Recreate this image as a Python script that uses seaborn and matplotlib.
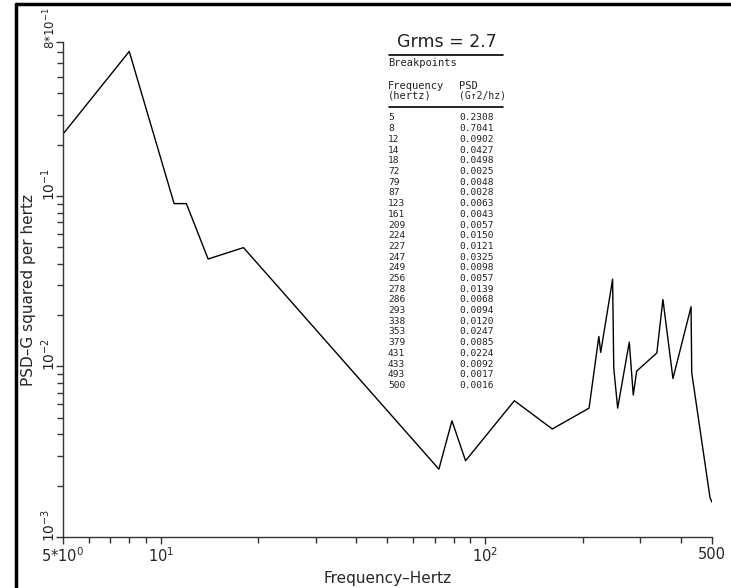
import numpy as np
import pandas as pd
import seaborn as sns
import matplotlib.pyplot as plt
from matplotlib.lines import Line2D
from matplotlib.ticker import FixedLocator, NullFormatter
from matplotlib.transforms import ScaledTranslation

sns.set_style('ticks')
plt.rcParams['font.family'] = ['DejaVu Sans']

# Breakpoint table (frequency in Hz, PSD in G^2/Hz)
freq = [5, 8, 12, 14, 18, 72, 79, 87, 123, 161, 209, 224, 227, 247, 249,
        256, 278, 286, 293, 338, 353, 379, 431, 433, 493, 500]
psd = [0.2308, 0.7041, 0.0902, 0.0427, 0.0498, 0.0025, 0.0048, 0.0028,
       0.0063, 0.0043, 0.0057, 0.0150, 0.0121, 0.0325, 0.0098, 0.0057,
       0.0139, 0.0068, 0.0094, 0.0120, 0.0247, 0.0085, 0.0224, 0.0092,
       0.0017, 0.0016]
grms = 2.7

# plotted curve: same breakpoints, plus the short plateau drawn at ~11 Hz
curve_freq = [5, 8, 11, 12, 14, 18, 72, 79, 87, 123, 161, 209, 224, 227, 247, 249,
              256, 278, 286, 293, 338, 353, 379, 431, 433, 493, 500]
curve_psd = [0.2308, 0.7041, 0.0902, 0.0902, 0.0427, 0.0498, 0.0025, 0.0048, 0.0028,
             0.0063, 0.0043, 0.0057, 0.0150, 0.0121, 0.0325, 0.0098, 0.0057,
             0.0139, 0.0068, 0.0094, 0.0120, 0.0247, 0.0085, 0.0224, 0.0092,
             0.0017, 0.0016]

x_ticks = [5, 10, 100, 500]
x_labels = [r'$5{*}10^{0}$', r'$10^{1}$', r'$10^{2}$', '500']
y_ticks = [0.001, 0.01, 0.1, 0.8]
y_labels = [r'$10^{-3}$', r'$10^{-2}$', r'$10^{-1}$', r'$8{*}10^{-1}$']

df = pd.DataFrame({'freq': curve_freq, 'psd': curve_psd})

W, H = 731, 588
fig = plt.figure(figsize=(W / 100, H / 100), dpi=100)
ax = fig.add_axes([63 / W, 1 - 537 / H, (712 - 63) / W, (537 - 42) / H])

sns.lineplot(data=df, x='freq', y='psd', ax=ax, color='black', lw=1.0,
             estimator=None, sort=False)

ax.set_xscale('log')
ax.set_yscale('log')
ax.set_xlim(5, 500)
ax.set_ylim(0.001, 0.8)

ax.xaxis.set_major_locator(FixedLocator(x_ticks))
ax.set_xticklabels(x_labels, fontsize=10.5)
ax.xaxis.set_minor_locator(FixedLocator([6, 7, 8, 9, 20, 30, 40, 50, 60, 70, 80, 90, 200, 300, 400]))
ax.xaxis.set_minor_formatter(NullFormatter())

ymin = [m * 10.0 ** e for e in (-3, -2, -1) for m in range(2, 10)]
ymin = [v for v in ymin if v < 0.8]
ax.yaxis.set_major_locator(FixedLocator(y_ticks))
ax.set_yticklabels([''] * len(y_ticks))
ax.yaxis.set_minor_locator(FixedLocator(ymin))
ax.yaxis.set_minor_formatter(NullFormatter())

# rotated y tick labels, sitting just above their ticks like the original
for v, lab in zip(y_ticks, y_labels):
    top = v == y_ticks[-1]
    off = ScaledTranslation(-5 / 100, (-7 if top else -5) / 100, fig.dpi_scale_trans)
    ax.text(0, v, lab, transform=ax.get_yaxis_transform() + off, rotation=90,
            ha='right', va='bottom', fontsize=8.5 if top else 10, color='#222222')

ax.tick_params(which='major', length=5, width=1, direction='out', color='#333333', pad=2)
ax.tick_params(which='minor', length=4, width=1, direction='out', color='#333333')
sns.despine(ax=ax)
for s in ('left', 'bottom'):
    ax.spines[s].set_color('#333333')
    ax.spines[s].set_linewidth(1.0)

ax.set_xlabel('Frequency\u2013Hertz', fontsize=11, labelpad=4)
ax.set_ylabel('PSD\u2013G squared per hertz', fontsize=11)
ax.yaxis.set_label_coords((36 - 63) / (712 - 63), 0.5)

# scanned page frame (top and left edges)
fig.add_artist(Line2D([15.5 / W, 15.5 / W], [0, 1 - 3.5 / H], color='black', lw=2.5,
                      transform=fig.transFigure))
fig.add_artist(Line2D([15.5 / W, 1], [1 - 3.5 / H, 1 - 3.5 / H], color='black', lw=2.5,
                      transform=fig.transFigure))

# breakpoint table
def px(x, y):
    return x / W, 1 - y / H

mono = 'DejaVu Sans Mono'
tc = '#222222'
fig.text(*px(397, 42), f'Grms = {grms}', fontsize=12.5, va='center', ha='left', color=tc)
fig.add_artist(Line2D([389 / W, 503 / W], [1 - 55 / H] * 2, color='black', lw=1.2,
                      transform=fig.transFigure))
fig.text(*px(388, 63), 'Breakpoints', fontsize=7.5, family=mono, va='center', color=tc)
fig.text(*px(388, 86), 'Frequency', fontsize=7.5, family=mono, va='center', color=tc)
fig.text(*px(388, 96), '(hertz)', fontsize=7.5, family=mono, va='center', color=tc)
fig.text(*px(459, 86), 'PSD', fontsize=7.5, family=mono, va='center', color=tc)
fig.text(*px(459, 96), '(G\u21912/hz)', fontsize=7, family=mono, va='center', color=tc)
fig.add_artist(Line2D([389 / W, 503 / W], [1 - 107 / H] * 2, color='black', lw=1.2,
                      transform=fig.transFigure))
for i, (f, p) in enumerate(zip(freq, psd)):
    y = 118 + i * 10.7
    fig.text(*px(388, y), str(f), fontsize=6.8, family=mono, va='center', color=tc)
    fig.text(*px(459, y), f'{p:.4f}', fontsize=6.8, family=mono, va='center', color=tc)

fig.savefig('out.png', dpi=100)
